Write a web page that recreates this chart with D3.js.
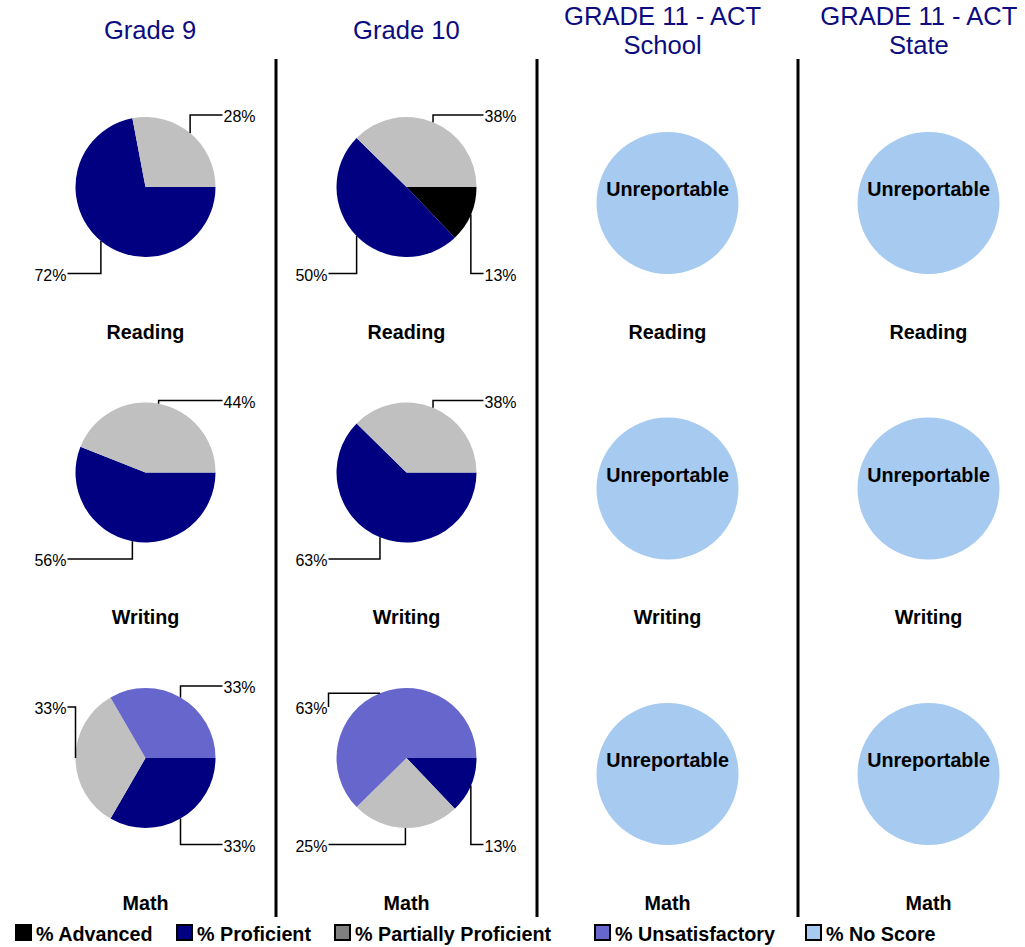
<!DOCTYPE html>
<html><head><meta charset="utf-8">
<script src="https://cdn.jsdelivr.net/npm/d3@7"></script>
<style>body{margin:0;background:#fff}svg{display:block}</style>
</head><body>
<script>
// ---- data ----
const columnTitles = [["Grade 9"], ["Grade 10"], ["GRADE 11 - ACT", "School"], ["GRADE 11 - ACT", "State"]];
const subjects = ["Reading", "Writing", "Math"];
const categories = ["% Advanced", "% Proficient", "% Partially Proficient", "% Unsatisfactory", "% No Score"];
const pieColors = ["#000000", "#000080", "#c0c0c0", "#6666cc", "#a6caf0"];
const legendColors = ["#000000", "#000080", "#808080", "#6666cc", "#a6caf0"];
// values per category: Advanced, Proficient, Partially Proficient, Unsatisfactory
const grade9Reading = [0, 72, 28, 0];
const grade9Writing = [0, 56, 44, 0];
const grade9Math = [0, 33, 33, 33];
const grade10Reading = [13, 50, 38, 0];
const grade10Writing = [0, 63, 38, 0];
const grade10Math = [0, 13, 25, 63];
const unreportableText = "Unreportable";

const grid = [
  [grade9Reading, grade9Writing, grade9Math],
  [grade10Reading, grade10Writing, grade10Math],
  [null, null, null],
  [null, null, null]
];

// ---- layout ----
const W = 1025, H = 947;
const svg = d3.select("body").append("svg").attr("width", W).attr("height", H);
const x = d3.scaleBand().domain(d3.range(4)).range([15, 1059]);
const xHead = d3.scaleBand().domain(d3.range(4)).range([22, 1047]);
const y = d3.scaleBand().domain(subjects).range([44.25, 900.75]);
const R = 70, RU = 71;
const condensed = 0.94;
const headColor = "#0c0c80";

// separators
[1, 2, 3].forEach(i => {
  svg.append("line")
    .attr("x1", x(i)).attr("x2", x(i))
    .attr("y1", 59).attr("y2", 917)
    .attr("stroke", "#000").attr("stroke-width", 3);
});

// headers
columnTitles.forEach((lines, i) => {
  const cx = xHead(i) + xHead.bandwidth() / 2;
  const t = svg.append("text")
    .attr("text-anchor", "middle")
    .attr("font-family", "Liberation Sans, Arial, sans-serif")
    .attr("font-size", 25.6)
    .attr("fill", headColor);
  if (lines.length === 1) {
    t.append("tspan").attr("x", cx).attr("y", 38.5).text(lines[0]);
  } else {
    t.append("tspan").attr("x", cx).attr("y", 24.5).text(lines[0]);
    t.append("tspan").attr("x", cx).attr("y", 53.5).text(lines[1]);
  }
});

function boldText(g, tx, ty, str, anchor) {
  g.append("text")
    .attr("transform", `translate(${tx},${ty}) scale(${condensed},1)`)
    .attr("text-anchor", anchor || "middle")
    .attr("font-family", "Liberation Sans, Arial, sans-serif")
    .attr("font-weight", "bold")
    .attr("font-size", 21)
    .attr("fill", "#000")
    .text(str);
}

const pie = d3.pie().sort(null).value(d => d)
  .startAngle(Math.PI / 2).endAngle(Math.PI / 2 + 2 * Math.PI);
const arc = d3.arc().innerRadius(0).outerRadius(R);

grid.forEach((col, ci) => {
  const cx = x(ci) + x.bandwidth() / 2;
  col.forEach((vals, ri) => {
    const cy = y(subjects[ri]) + y.bandwidth() / 2;
    const g = svg.append("g");
    if (vals) {
      const arcs = pie(vals);
      g.append("g").attr("transform", `translate(${cx},${cy})`)
        .selectAll("path").data(arcs.filter(a => a.value > 0)).join("path")
        .attr("d", arc).attr("fill", a => pieColors[a.index]);
      arcs.filter(a => a.value > 0).forEach(a => {
        const mid = (a.startAngle + a.endAngle) / 2;
        const ax = cx + R * Math.sin(mid), ay = cy - R * Math.cos(mid);
        const right = ax > cx + 0.5;
        const upper = ay <= cy + 0.5;
        const lx = right ? cx + 77 : cx - 78;
        const ly = upper ? (right ? cy - 72 : cy - 51) : cy + 86.5;
        const horizFirst = (upper && ay < ly) || (!upper && ay > ly);
        const p = horizFirst
          ? `M${ax},${ay}H${lx}V${ly}`
          : `M${ax},${ay}V${ly}H${lx}`;
        g.append("path").attr("d", p).attr("fill", "none")
          .attr("stroke", "#000").attr("stroke-width", 1.5);
        g.append("text")
          .attr("x", right ? lx + 1 : lx - 1).attr("y", ly + 1.5)
          .attr("dominant-baseline", "central")
          .attr("text-anchor", right ? "start" : "end")
          .attr("font-family", "Liberation Sans, Arial, sans-serif")
          .attr("font-size", 16).attr("fill", "#000")
          .text(d3.format(".0f")(a.value) + "%");
      });
    } else {
      g.append("circle").attr("cx", cx).attr("cy", cy + 16).attr("r", RU)
        .attr("fill", pieColors[4]);
      boldText(g, cx, cy + 9, unreportableText);
    }
    boldText(g, cx, cy + 151.5, subjects[ri]);
  });
});

// legend
const legendX = [15, 176, 334, 594, 805];
const lg = svg.append("g");
categories.forEach((c, i) => {
  lg.append("rect").attr("x", legendX[i] + 1).attr("y", 925).attr("width", 15).attr("height", 15)
    .attr("fill", legendColors[i]).attr("stroke", "#000").attr("stroke-width", 2);
  boldText(lg, legendX[i] + 21, 941, c, "start");
});
</script>
</body></html>
